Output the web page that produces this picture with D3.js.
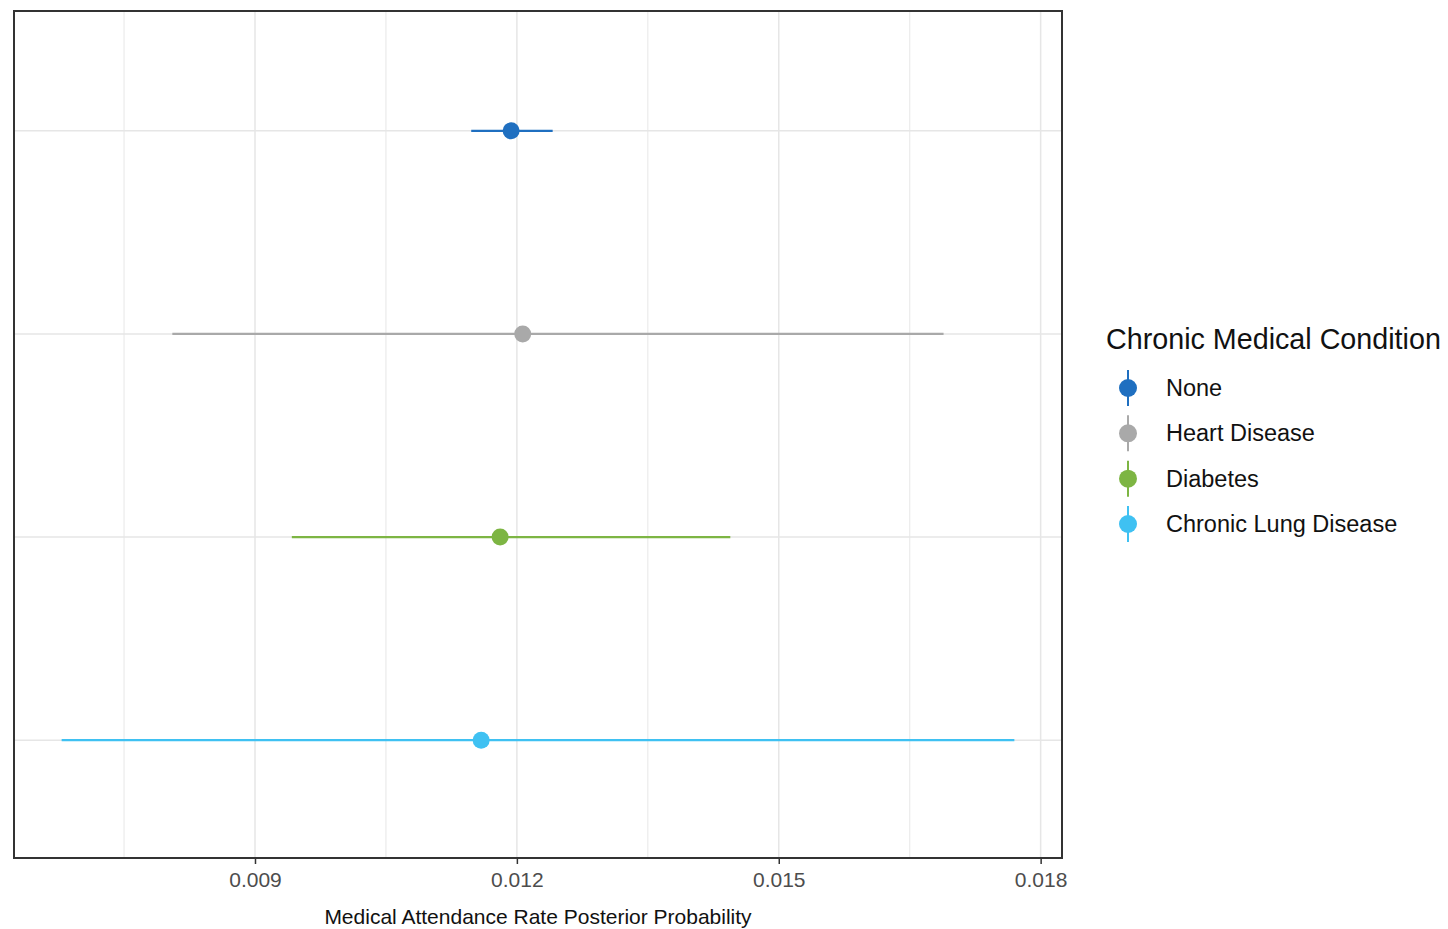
<!DOCTYPE html>
<html>
<head>
<meta charset="utf-8">
<script src="https://cdn.jsdelivr.net/npm/d3@7"></script>
<style>
  html, body { margin: 0; padding: 0; background: #fff; }
  svg { display: block; font-family: "Liberation Sans", Arial, sans-serif; }
</style>
</head>
<body>
<svg id="chart" width="1448" height="929"></svg>
<script>
// Posterior estimates of the medical attendance rate by chronic condition
const conditions = ["None", "Heart Disease", "Diabetes", "Chronic Lung Disease"];
const estimates  = [0.011934, 0.012067, 0.011808, 0.011591];
const lower      = [0.011477, 0.008053, 0.009422, 0.006785];
const upper      = [0.012410, 0.016888, 0.014445, 0.017699];
const colors     = ["#1f6fc0", "#a9a9a9", "#7db543", "#3fc1f2"];
const xTicks     = [0.009, 0.012, 0.015, 0.018];
const xMinor     = [0.0075, 0.0105, 0.0135, 0.0165];
const legendTitle = "Chronic Medical Condition";
const xTitle = "Medical Attendance Rate Posterior Probability";

const rows = conditions.map((c, i) => ({
  cond: c, est: estimates[i], lo: lower[i], hi: upper[i], color: colors[i]
}));

const svg = d3.select("#chart");
const panel = { left: 14, right: 1062, top: 11, bottom: 858 };

// x domain: data range expanded by 5% on each side
const dMin = d3.min(lower), dMax = d3.max(upper);
const pad = (dMax - dMin) * 0.05;
const x = d3.scaleLinear().domain([dMin - pad, dMax + pad]).range([panel.left, panel.right]);
const y = d3.scalePoint().domain(conditions).range([panel.top, panel.bottom + 2]).padding(0.59);

const grid = svg.append("g");
grid.selectAll("line.minor").data(xMinor).join("line")
  .attr("x1", d => x(d)).attr("x2", d => x(d))
  .attr("y1", panel.top).attr("y2", panel.bottom)
  .attr("stroke", "#ebebeb").attr("stroke-width", 1.2);
grid.selectAll("line.major").data(xTicks).join("line")
  .attr("x1", d => x(d)).attr("x2", d => x(d))
  .attr("y1", panel.top).attr("y2", panel.bottom)
  .attr("stroke", "#e6e6e6").attr("stroke-width", 1.5);
grid.selectAll("line.row").data(conditions).join("line")
  .attr("x1", panel.left).attr("x2", panel.right)
  .attr("y1", d => y(d)).attr("y2", d => y(d))
  .attr("stroke", "#e6e6e6").attr("stroke-width", 1.5);

// intervals and point estimates
const marks = svg.append("g");
marks.selectAll("line.ci").data(rows).join("line")
  .attr("x1", d => x(d.lo)).attr("x2", d => x(d.hi))
  .attr("y1", d => y(d.cond)).attr("y2", d => y(d.cond))
  .attr("stroke", d => d.color).attr("stroke-width", 2.2);
marks.selectAll("circle").data(rows).join("circle")
  .attr("cx", d => x(d.est)).attr("cy", d => y(d.cond))
  .attr("r", 8.5).attr("fill", d => d.color);

// panel border
svg.append("rect")
  .attr("x", panel.left).attr("y", panel.top)
  .attr("width", panel.right - panel.left).attr("height", panel.bottom - panel.top)
  .attr("fill", "none").attr("stroke", "#333").attr("stroke-width", 2);

// bottom axis
const xAxis = svg.append("g")
  .attr("transform", `translate(0,${panel.bottom})`)
  .call(d3.axisBottom(x).tickValues(xTicks).tickFormat(d3.format(".3f")).tickSize(6).tickPadding(8));
xAxis.select(".domain").remove();
xAxis.selectAll(".tick line").attr("stroke", "#333").attr("stroke-width", 1.5);
xAxis.selectAll(".tick text")
  .attr("fill", "#4d4d4d").attr("font-size", 21)
  .attr("font-family", "Liberation Sans, Arial, sans-serif");

svg.append("text")
  .attr("x", (panel.left + panel.right) / 2).attr("y", 924)
  .attr("text-anchor", "middle").attr("font-size", 21).attr("fill", "#111")
  .text(xTitle);

// legend
const legend = svg.append("g");
legend.append("text")
  .attr("x", 1106).attr("y", 349)
  .attr("font-size", 28.7).attr("fill", "#111")
  .text(legendTitle);
const ly = d3.scalePoint().domain(conditions).range([388, 524]);
const item = legend.selectAll("g.item").data(rows).join("g")
  .attr("transform", d => `translate(0,${ly(d.cond)})`);
item.append("line")
  .attr("x1", 1128).attr("x2", 1128).attr("y1", -18).attr("y2", 18)
  .attr("stroke", d => d.color).attr("stroke-width", 2);
item.append("circle")
  .attr("cx", 1128).attr("cy", 0).attr("r", 9).attr("fill", d => d.color);
item.append("text")
  .attr("x", 1166).attr("y", 8)
  .attr("font-size", 23.5).attr("fill", "#111")
  .text(d => d.cond);
</script>
</body>
</html>
